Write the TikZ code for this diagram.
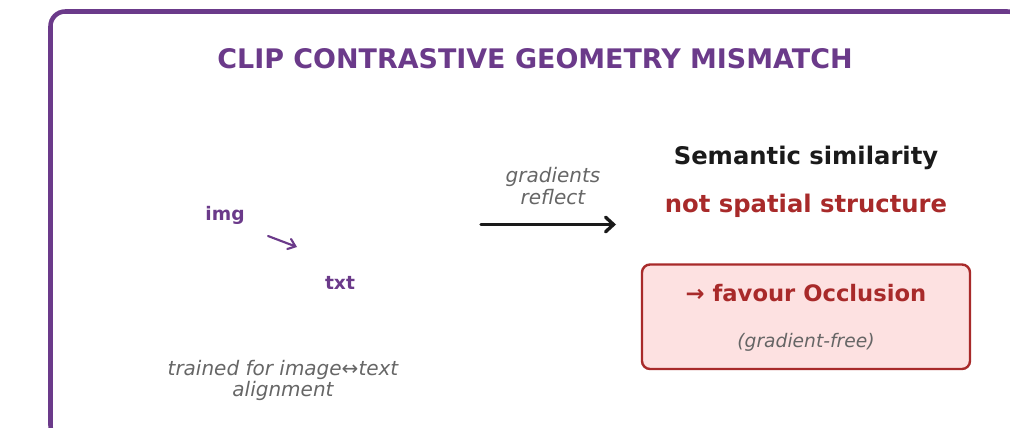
\documentclass[tikz,border=0pt]{standalone}
\usepackage{fontspec}
\setmainfont{DejaVu Sans}
\usetikzlibrary{arrows.meta}
\definecolor{cpurple}{HTML}{6B3A8A}
\definecolor{cred}{HTML}{A82A2A}
\definecolor{cgray}{HTML}{666666}
\definecolor{cpink}{HTML}{FDE1E1}
\definecolor{cdark}{HTML}{1A1A1A}
\tikzset{
  title/.style={font=\fontsize{20.2}{24}\selectfont\bfseries, text=cpurple},
  lbl/.style={font=\fontsize{14}{17}\selectfont\bfseries, text=cpurple},
  note/.style={font=\fontsize{15}{16}\selectfont\itshape, text=cgray, align=center},
  headline/.style={font=\fontsize{18.2}{22}\selectfont\bfseries},
  resultbox/.style={draw=cred, line width=1.8pt, fill=cpink, rounded corners=6pt},
}
\begin{document}
\begin{tikzpicture}[x=0.75pt,y=-0.75pt]
\useasboundingbox (0,0) rectangle (1010,428);
\draw[cpurple, line width=3.4pt, rounded corners=11pt] (50.5,11.5) rectangle (1022,440);
\node[title] (t) at (535,59) {CLIP CONTRASTIVE GEOMETRY MISMATCH};
\node[lbl] (img) at (225,215) {img};
\node[lbl] (txt) at (340,283) {txt};
\coordinate (a1) at (268,236);
\coordinate (a2) at (297,247);
\draw[cpurple, line width=1.6pt, line cap=round, -{Straight Barb[length=5pt,width=8pt,line cap=round]}] (a1) -- (a2);
\node[note] (train) at (283,380.5) {trained for image↔text\\alignment};
\node[note] (grad) at (553,186) {gradients\\reflect};
\coordinate (b1) at (481,224.5);
\coordinate (b2) at (616,224.5);
\draw[cdark, line width=2.5pt, line cap=round, -{Straight Barb[length=6pt,width=11pt,line cap=round]}] (b1) -- (b2);
\node[headline, text=cdark] (sem) at (806,157.5) {Semantic similarity};
\node[headline, text=cred] (nss) at (806,205.5) {not spatial structure};
\draw[resultbox] (642,264.5) rectangle (970,369) node[pos=0.5, inner sep=0] (box) {};
\node[font=\fontsize{17}{20}\selectfont\bfseries, text=cred] (fav) at (806,293.5) {→ favour Occlusion};
\node[font=\fontsize{14}{17}\selectfont\itshape, text=cgray] (gf) at (806,342) {(gradient-free)};
\end{tikzpicture}
\end{document}
